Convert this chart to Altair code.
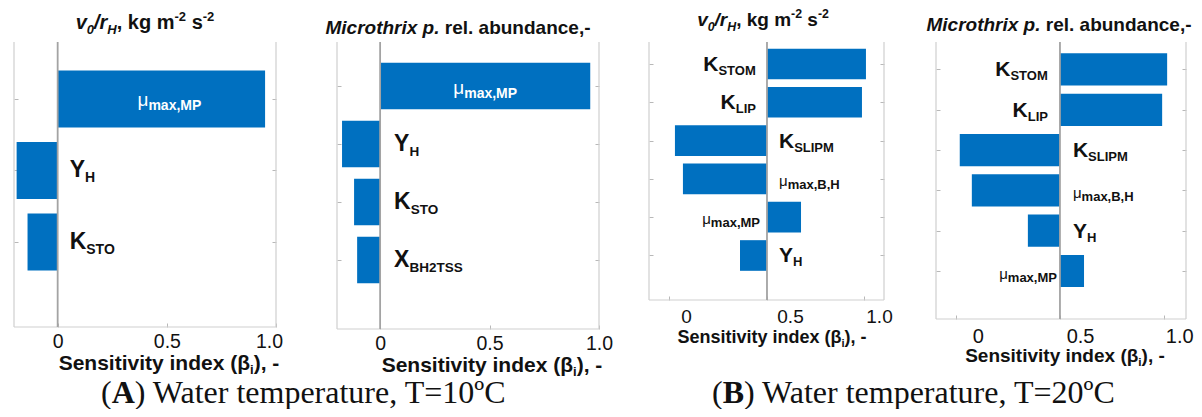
import altair as alt
import pandas as pd

# ------------------------------------------------------------------ data
A1_main = ["μ", "Y", "K"]
A1_sub = ["max,MP", "H", "STO"]
A1_beta = [0.95, -0.188, -0.138]

A2_main = ["μ", "Y", "K", "X"]
A2_sub = ["max,MP", "H", "STO", "BH2TSS"]
A2_beta = [0.96, -0.174, -0.119, -0.105]

B1_main = ["K", "K", "K", "μ", "μ", "Y"]
B1_sub = ["STOM", "LIP", "SLIPM", "max,B,H", "max,MP", "H"]
B1_beta = [1.015, 0.974, -0.944, -0.862, 0.349, -0.277]

B2_main = ["K", "K", "K", "μ", "Y", "μ"]
B2_sub = ["STOM", "LIP", "SLIPM", "max,B,H", "H", "max,MP"]
B2_beta = [1.029, 0.981, -0.962, -0.846, -0.308, 0.231]

A_ticks = [0, 0.5, 1.0]
A_tick_labels = ["0", "0.5", "1.0"]
B_ticks = [-1, 0, 1]
B_tick_labels = ["0", "0.5", "1.0"]

CAPTION_A = ["(", "A", ") Water temperature, T=10ºC"]
CAPTION_B = ["(", "B", ") Water temperature, T=20ºC"]

# ------------------------------------------------------------------ style
BLUE = "#0070C0"
INK = "#111111"
FRAME = "#cfcfcf"
TICK = "#b8b8b8"
ZERO = "#a3a3a3"
SANS = "Liberation Sans"
SERIF = "Liberation Serif"


def _mk(pairs):
    d = {}
    for chars, w in pairs:
        for c in chars:
            d[c] = w
    return d


W = {
    ("sans", "bold"): _mk([(" ,./", 278), ("()-", 333), ("0123456789", 556), ("=", 584),
                           ("ABCDHKNRU", 722), ("EPSVXY", 667), ("FLTZ", 611), ("GOQ", 778),
                           ("M", 833), ("W", 944), ("I", 278), ("J", 556),
                           ("aceksvxy", 556), ("bdghnopqu", 611), ("ft", 333), ("ijl", 278),
                           ("m", 889), ("r", 389), ("w", 778), ("z", 500), ("μβ", 611)]),
    ("sans", "normal"): _mk([(" ,./ft", 278), ("()-r", 333), ("0123456789abdeghnopqu", 556),
                             ("ckvxyzs", 500), ("ijl", 222), ("m", 833), ("w", 722),
                             ("ABEKPSVXY", 667), ("CDHNRU", 722), ("FTZ", 611), ("GOQ", 778),
                             ("M", 833), ("W", 944), ("I", 278), ("μ", 576), ("β", 576)]),
    ("serif", "normal"): _mk([(" ,.", 250), ("()r", 333), ("0123456789pu", 500), ("=", 564),
                              ("º", 310), ("ace", 444), ("m", 778), ("t", 278), ("T", 611),
                              ("W", 944), ("C", 667), ("AB", 722)]),
    ("serif", "bold"): _mk([("A", 722), ("B", 667), ("()", 333)]),
}


def tw(s, size, fam="sans", weight="bold"):
    tab = W[(fam, weight)]
    return sum(tab.get(c, 556) for c in s) * size / 1000.0


ONE = pd.DataFrame({"k": [0]})


def segments(segs, x, y, size, anchor="middle", fam="sans"):
    """segs: list of (text, size factor, weight, style, dy factor)."""
    family = SANS if fam == "sans" else SERIF
    widths = [tw(t, size * f, fam, wt) for t, f, wt, st, dy in segs]
    x0 = x - sum(widths) / 2.0 if anchor == "middle" else x
    out = []
    for (t, f, wt, st, dy), w in zip(segs, widths):
        lead = len(t) - len(t.lstrip(" "))
        xd = x0 + tw(" " * lead, size * f, fam, wt)
        out.append(
            alt.Chart(ONE).mark_text(text=t.strip(" "), align="left", baseline="alphabetic",
                                     font=family, fontSize=size * f, fontWeight=wt,
                                     fontStyle=st, color=INK)
            .encode(x=alt.value(xd), y=alt.value(y + dy * size))
        )
        x0 += w
    return out


TITLE_V = [("v", 1, "bold", "italic", 0), ("0", 0.65, "bold", "italic", 0.25),
           ("/r", 1, "bold", "italic", 0), ("H", 0.65, "bold", "italic", 0.25),
           (", kg m", 1, "bold", "normal", 0), ("-2", 0.65, "bold", "normal", -0.4),
           (" s", 1, "bold", "normal", 0), ("-2", 0.65, "bold", "normal", -0.4)]
TITLE_M = [("Microthrix p.", 1, "bold", "italic", 0), (" rel. abundance,-", 1, "bold", "normal", 0)]
AXIS_T = [("Sensitivity index (β", 1, "bold", "normal", 0), ("i", 0.62, "bold", "normal", 0.2),
          ("), -", 1, "bold", "normal", 0)]


def caption(parts):
    return [(parts[0], 1, "normal", "normal", 0), (parts[1], 1, "bold", "normal", 0),
            (parts[2], 1, "normal", "normal", 0)]


def label_expr(ticks, labels):
    expr = "''"
    for t, l in reversed(list(zip(ticks, labels))):
        expr = f"datum.value == {t} ? '{l}' : ({expr})"
    return expr


def label_offsets(ticks, offs):
    return {"condition": [{"test": f"datum.value == {t}", "value": o}
                          for t, o in zip(ticks[:-1], offs[:-1])],
            "value": offs[-1]}


def panel(main, sub, beta, cfg):
    n = len(beta)
    df = pd.DataFrame({"main": main, "sub": sub, "beta": beta, "pos": list(range(1, n + 1))})
    df["base"] = 0.0
    df["lo"] = df["pos"] - 0.4
    df["hi"] = df["pos"] + 0.4
    df["mid"] = df["beta"] / 2.0
    xd, yd = cfg["xdom"], cfg["ydom"]
    w, gap = cfg["w"], cfg["gap"]
    unit = (xd[1] - xd[0]) / w
    view_dom = [xd[0], xd[1] + gap * unit]  # empty strip on the right acts as panel gap
    xs = alt.Scale(domain=view_dom, nice=False, zero=False)
    ys = alt.Scale(domain=yd, nice=False, zero=False, reverse=True)

    xaxis = alt.Axis(values=cfg["ticks"], labelExpr=label_expr(cfg["ticks"], cfg["tick_labels"]),
                     domain=False, offset=-4, tickSize=4, tickColor=TICK, grid=False, title=None,
                     labelFont=SANS, labelFontSize=cfg["tick_size"], labelColor=INK,
                     labelPadding=cfg["lab_pad"],
                     labelOffset=label_offsets(cfg["ticks"], cfg["lab_offs"]),
                     labelAlign=cfg.get("lab_align", "center"), labelFlush=False,
                     labelOverlap=False)
    yl = alt.Axis(values=list(range(1, n + 1)), orient="left", offset=-4, tickSize=4,
                  tickColor=TICK, domain=False, labels=False, grid=False, title=None)
    yr = alt.Axis(values=list(range(1, n + 1)), orient="right", offset=-(gap + 4), tickSize=4,
                  tickColor=TICK, domain=False, labels=False, grid=False, title=None)

    X = lambda f: alt.X(f, scale=xs, axis=xaxis)

    frame_df = pd.DataFrame({"x": [xd[0], xd[1], xd[0]], "x2": [xd[0], xd[1], xd[1]],
                             "y": [yd[0], yd[0], yd[1]], "y2": [yd[1], yd[1], yd[1]]})
    frame = alt.Chart(frame_df).mark_rule(color=FRAME, strokeWidth=1.2).encode(
        x=X("x:Q"), x2="x2:Q", y=alt.Y("y:Q", scale=ys, axis=yr), y2="y2:Q")

    bars = alt.Chart(df).mark_rect(color=BLUE).encode(
        x=X("base:Q"), x2="beta:Q", y=alt.Y("lo:Q", scale=ys, axis=yl), y2="hi:Q")

    zero_df = pd.DataFrame({"x": [0.0], "y": [yd[0]], "y2": [yd[1]]})
    zero = alt.Chart(zero_df).mark_rule(color=ZERO, strokeWidth=1.8).encode(
        x=X("x:Q"), y=alt.Y("y:Q", scale=ys, axis=None), y2="y2:Q")

    layers = [frame, bars, zero]

    for r in df.itertuples():
        is_mu = r.main == "μ"
        m_size = cfg["mu"] if is_mu else cfg["main"]
        s_size = cfg["musub"] if is_mu else cfg["sub"]
        m_wt = "normal" if is_mu else "bold"
        m_w = tw(r.main, m_size, "sans", m_wt)
        s_w = tw(r.sub, s_size, "sans", "bold")
        if r.beta > 0 and cfg["inside"]:
            field, color = "mid", "white"
            m_dx = -(m_w + s_w) / 2.0 + cfg.get("in_dx", 0)
        elif r.beta > 0:
            field, color = "base", INK
            g = cfg["mu_gapL"] if is_mu else cfg["gapL"]
            m_dx = -g - s_w - m_w
        else:
            field, color = "base", INK
            m_dx = cfg["gapR"]
        s_dx = m_dx + m_w
        m_dy = cfg["mu_dy"] if is_mu else cfg["main_dy"]
        s_dy = cfg["musub_dy"] if is_mu else cfg["sub_dy"]
        for tf, size, dx, dy, wt in [("main", m_size, m_dx, m_dy, m_wt),
                                     ("sub", s_size, s_dx, s_dy, "bold")]:
            layers.append(
                alt.Chart(df).transform_filter(alt.datum.pos == r.pos)
                .mark_text(align="left", baseline="alphabetic", dx=dx, dy=dy, font=SANS,
                           fontSize=size, fontWeight=wt, color=color)
                .encode(x=X(f"{field}:Q"), y=alt.Y("pos:Q", scale=ys, axis=None),
                        text=f"{tf}:N")
            )

    tx, ty, tsize = cfg["title_pos"]
    layers += segments(cfg["title"], tx, ty, tsize)
    ax, ay, asize = cfg["axt_pos"]
    layers += segments(AXIS_T, ax, ay, asize)
    if "caption" in cfg:
        cx, cy, csize = cfg["cap_pos"]
        layers += segments(caption(cfg["caption"]), cx, cy, csize, anchor="left", fam="serif")

    return alt.layer(*layers).resolve_axis(y="independent").properties(
        width=w + gap, height=cfg["h"])


cfg1 = dict(w=262, gap=61, h=285, xdom=[-0.2, 1.0], ydom=[0.203, 4.189], ticks=A_ticks,
            tick_labels=A_tick_labels, tick_size=19.5, lab_pad=5, lab_offs=[0, 0, -7],
            main=23, sub=14, mu=19, musub=14, main_dy=7, sub_dy=12, mu_dy=7, musub_dy=11,
            inside=True, in_dx=8, title=TITLE_V, title_pos=(131, -13, 20),
            axt_pos=(155, 328, 21), caption=CAPTION_A, cap_pos=(87, 361, 32),
            mu_gapL=7, gapL=11, gapR=12)
cfg2 = dict(w=262, gap=50, h=287, xdom=[-0.197, 1.0], ydom=[0.241, 5.189], ticks=A_ticks,
            tick_labels=A_tick_labels, tick_size=19.5, lab_pad=5, lab_offs=[0, 0, 0],
            main=23, sub=13.5, mu=19, musub=14, main_dy=7, sub_dy=12, mu_dy=8, musub_dy=12,
            inside=True, title=TITLE_M, title_pos=(121, -8, 19), axt_pos=(155, 330, 21),
            mu_gapL=7, gapL=14, gapR=14)
cfg3 = dict(w=235, gap=52, h=258, xdom=[-1.21, 1.2], ydom=[0.426, 7.162], ticks=B_ticks,
            tick_labels=B_tick_labels, tick_size=19, lab_pad=7.5, lab_offs=[16.5, 23, 14.5],
            main=21, sub=13, mu=15, musub=13, main_dy=7, sub_dy=11, mu_dy=7, musub_dy=10,
            inside=False, title=TITLE_V, title_pos=(114, -16, 19), axt_pos=(123, 301, 18),
            caption=CAPTION_B, cap_pos=(63, 361, 32), mu_gapL=7, gapL=11, gapR=12)
cfg4 = dict(w=250, gap=0, h=277, xdom=[-1.19, 1.21], ydom=[0.318, 7.191], ticks=B_ticks,
            tick_labels=B_tick_labels, tick_size=20, lab_pad=7, lab_offs=[27.5, 34, 29],
            lab_align="right",
            main=21, sub=13, mu=15, musub=13, main_dy=7, sub_dy=11, mu_dy=8, musub_dy=11,
            inside=False, title=TITLE_M, title_pos=(123, -11, 19), axt_pos=(129, 320, 19),
            mu_gapL=3, gapL=12, gapR=13)

p1 = panel(A1_main, A1_sub, A1_beta, cfg1)
p2 = panel(A2_main, A2_sub, A2_beta, cfg2)
p3 = panel(B1_main, B1_sub, B1_beta, cfg3)
p4 = panel(B2_main, B2_sub, B2_beta, cfg4)

chart = (
    alt.hconcat(p1, p2, p3, p4, spacing=0, bounds="flush")
    .properties(padding={"left": 5, "top": 0, "right": 0, "bottom": 0}, background="white")
    .configure_view(stroke=None)
)

chart.save("out.html", embed_options={"renderer": "svg", "actions": False})
